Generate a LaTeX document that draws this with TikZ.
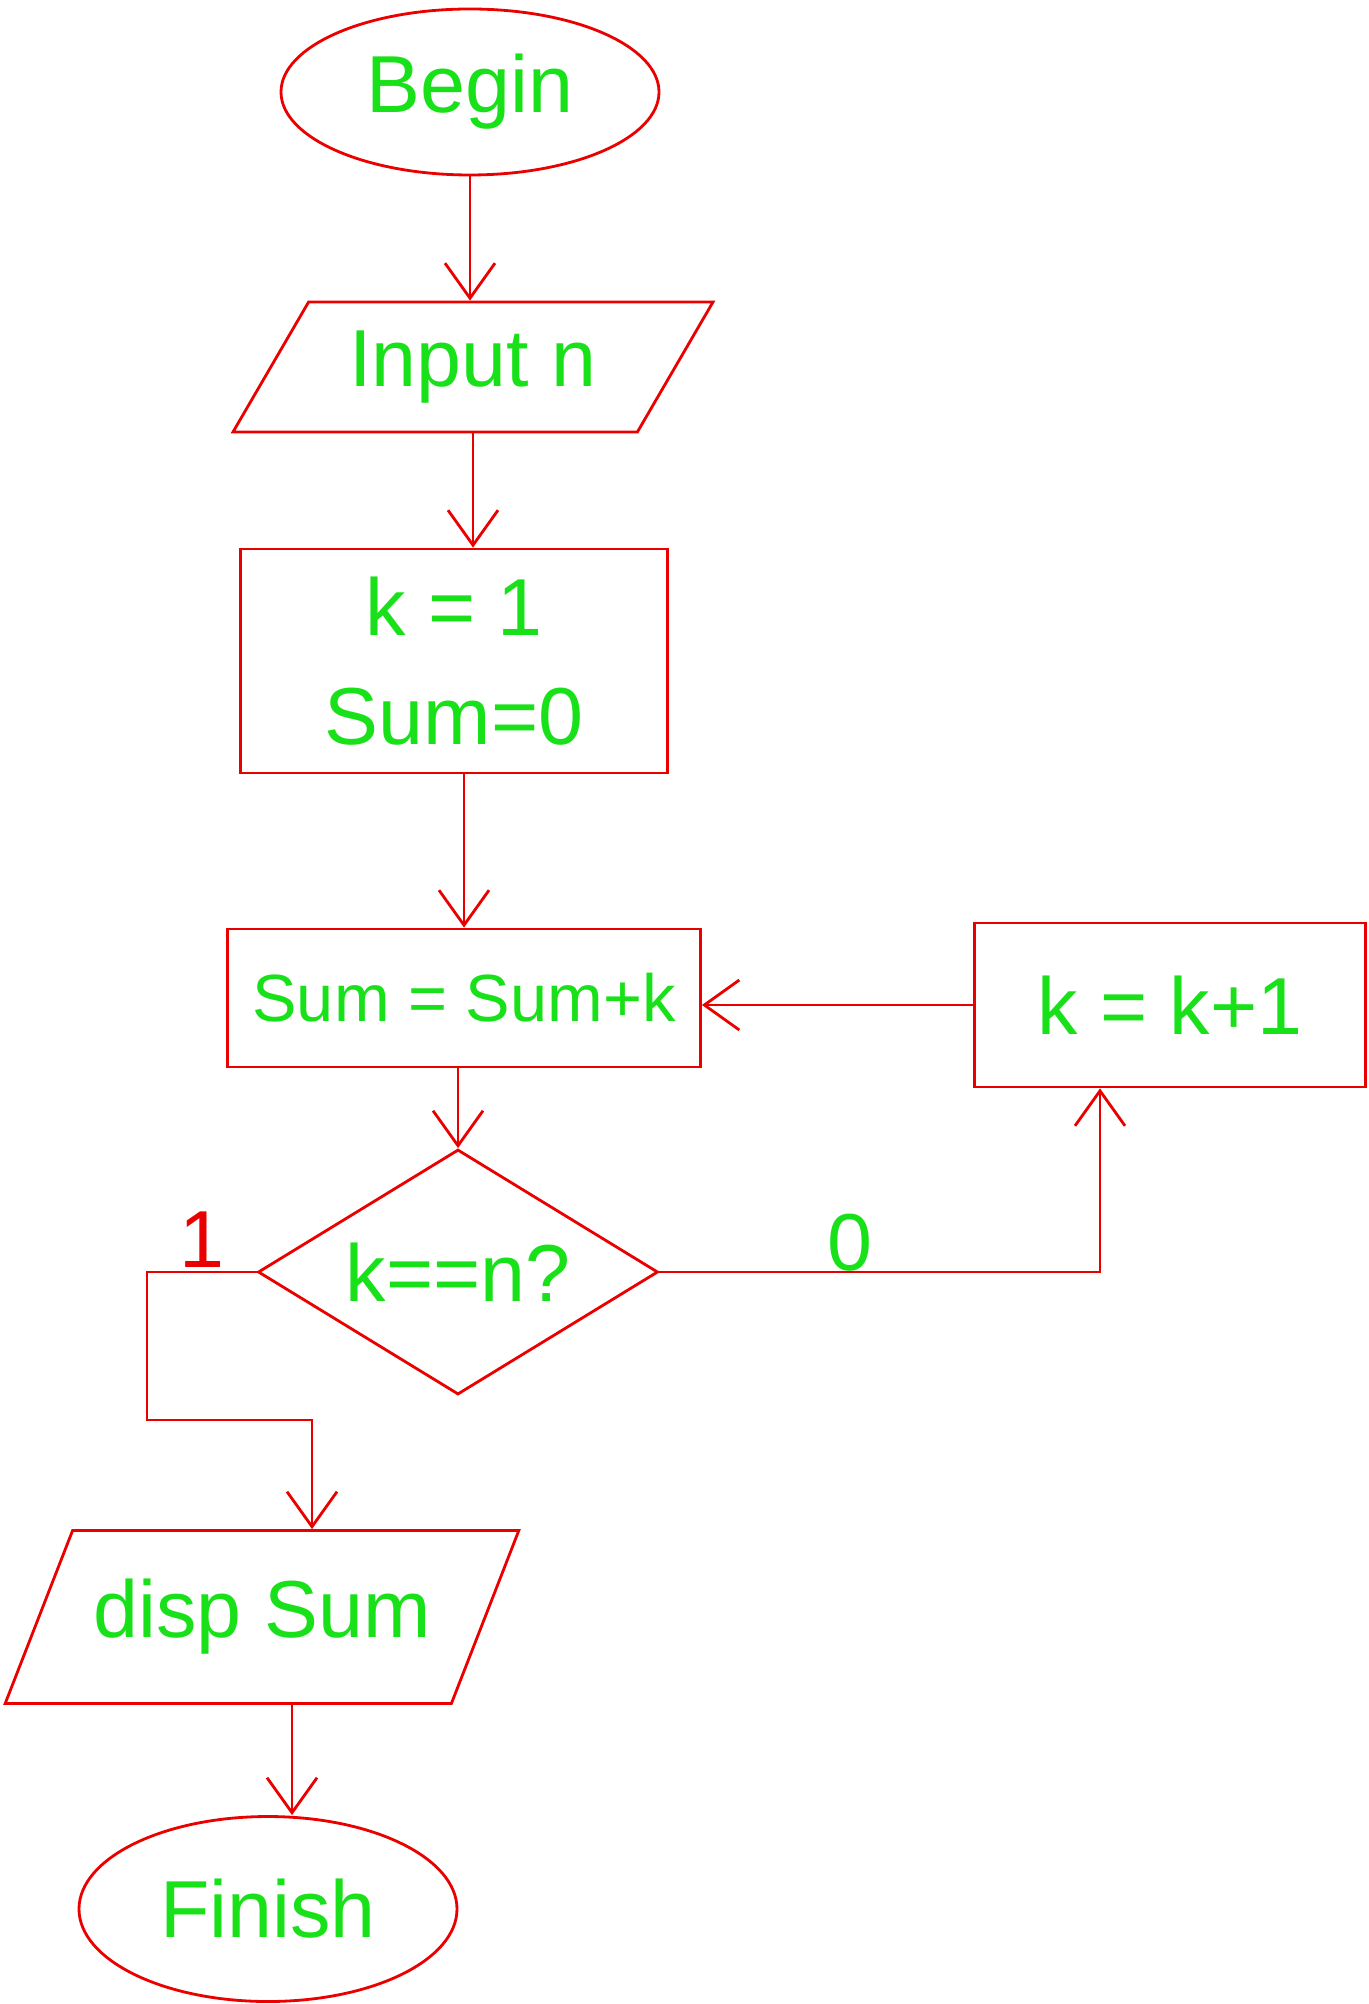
\documentclass[tikz,border=0pt]{standalone}
\usepackage{fontspec}
\setmainfont{Liberation Sans}
\usetikzlibrary{shapes.geometric,arrows.meta}

\definecolor{pen}{RGB}{235,0,0}
\definecolor{ink}{RGB}{25,225,25}

\tikzset{
  every node/.style={font=\fontsize{23}{27}\selectfont, text=ink},
  term/.style={ellipse, draw=pen, line width=0.8pt},
  io/.style={trapezium, trapezium left angle=57, trapezium right angle=123,
    trapezium stretches=true, draw=pen, line width=0.8pt},
  box/.style={rectangle, draw=pen, line width=0.8pt},
  test/.style={diamond, aspect=1.6, draw=pen, line width=0.8pt, inner sep=0pt},
  flow/.style={draw=pen, line width=0.8pt, -{Straight Barb[length=3.5mm,width=5mm]}}
}

\begin{document}
\begin{tikzpicture}
  \useasboundingbox (0,0) rectangle (13.68,-20.04);

  \node[term, minimum width=3.78cm, minimum height=1.66cm] (begin) at (4.70,-0.92) {Begin};
  \node[io, minimum width=4.8cm, minimum height=1.3cm] (input) at (4.73,-3.67) {Input n};
  \node[box, minimum width=4.27cm, minimum height=2.24cm, align=center] (init) at (4.54,-6.61)
    {k = 1\\[4pt] Sum=0};
  \node[box, minimum width=4.73cm, minimum height=1.38cm, font=\fontsize{19}{23}\selectfont]
    (acc) at (4.64,-9.98) {Sum = Sum+k};
  \node[test, minimum width=4.0cm, minimum height=2.45cm] (check) at (4.58,-12.72) {k==n?};
  \node[box, minimum width=3.91cm, minimum height=1.64cm] (incr) at (11.70,-10.05) {k = k+1};
  \node[io, minimum width=5.14cm, minimum height=1.73cm] (disp) at (2.62,-16.17) {disp Sum};
  \node[term, minimum width=3.78cm, minimum height=1.85cm] (finish) at (2.68,-19.09) {Finish};

  \node[text=pen] (one) at (2.02,-12.40) {1};
  \node (zero) at (8.50,-12.43) {0};
  \coordinate (loop) at (1.47,-14.20);

  \begin{scope}[flow]
    \draw (begin.south) -- (begin.south |- input.north);
    \draw (input.south) -- (input.south |- init.north);
    \draw (acc.north |- init.south) -- (acc.north);
    \draw (check.north |- acc.south) -- (check.north);
    \draw (check.west) -| (loop) -| ([xshift=5mm]disp.north);
    \draw (check.east) -| ([xshift=-7mm]incr.south);
    \draw (incr.west) -- (incr.west -| acc.east);
    \draw ([xshift=3mm]disp.south) -- ([xshift=3mm]disp.south |- finish.north);
  \end{scope}
\end{tikzpicture}
\end{document}
